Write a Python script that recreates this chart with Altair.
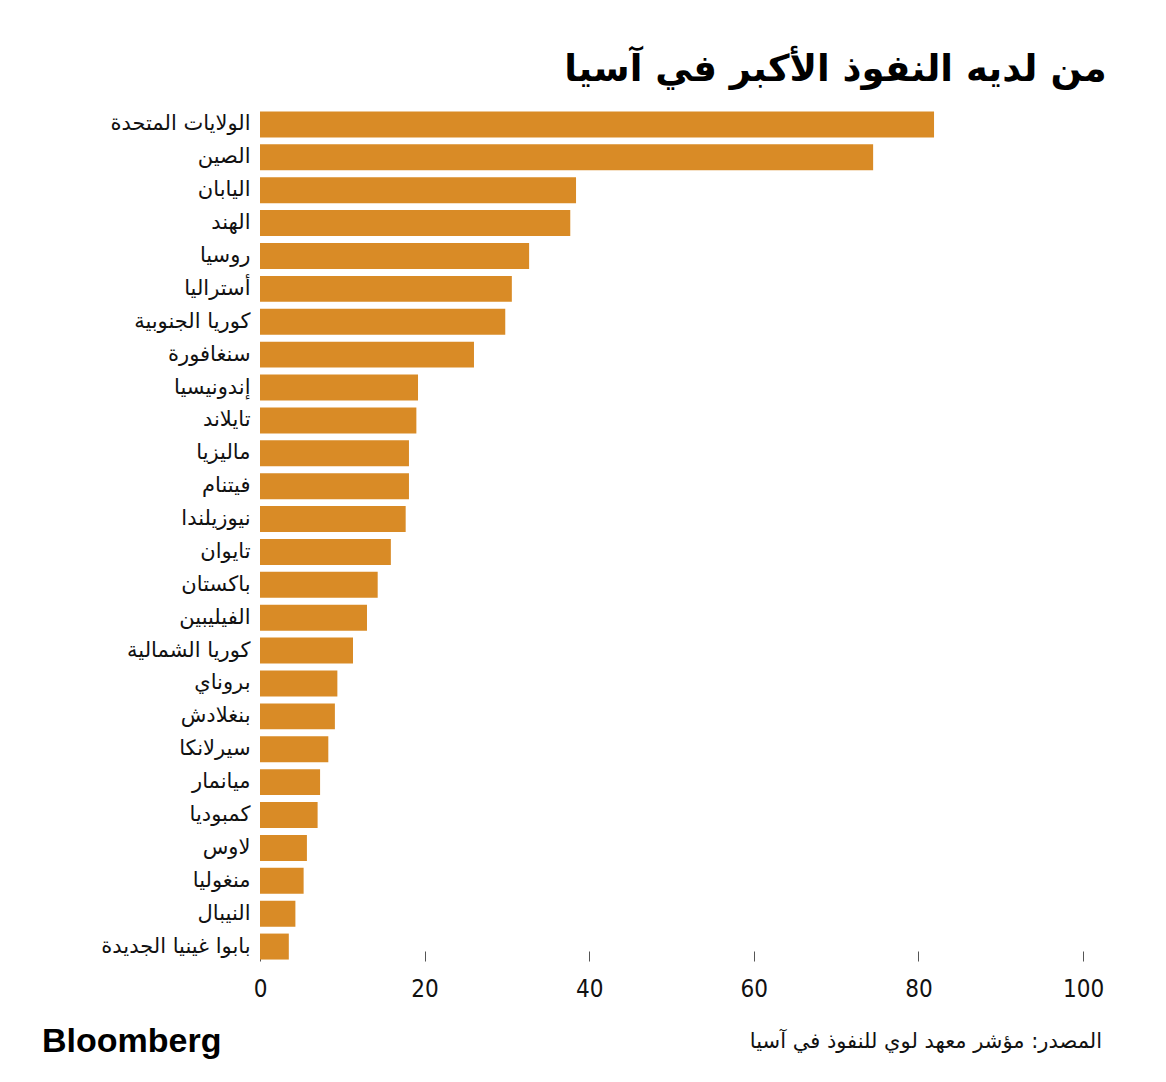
import altair as alt
import pandas as pd

countries = [
    "الولايات المتحدة", "الصين", "اليابان", "الهند", "روسيا", "أستراليا",
    "كوريا الجنوبية", "سنغافورة", "إندونيسيا", "تايلاند", "ماليزيا", "فيتنام",
    "نيوزيلندا", "تايوان", "باكستان", "الفيليبين", "كوريا الشمالية", "بروناي",
    "بنغلادش", "سيرلانكا", "ميانمار", "كمبوديا", "لاوس", "منغوليا", "النيبال",
    "بابوا غينيا الجديدة",
]
scores = [
    81.9, 74.5, 38.4, 37.7, 32.7, 30.6,
    29.8, 26.0, 19.2, 19.0, 18.1, 18.1,
    17.7, 15.9, 14.3, 13.0, 11.3, 9.4,
    9.1, 8.3, 7.3, 7.0, 5.7, 5.3, 4.3,
    3.5,
]
x_ticks = [0, 20, 40, 60, 80, 100]

title_text = "من لديه النفوذ الأكبر في آسيا"
source_text = "المصدر: مؤشر معهد لوي للنفوذ في آسيا"
brand_text = "Bloomberg"

df = pd.DataFrame({"country": countries, "score": scores})

W, H = 823, 855

bars = alt.Chart(df).mark_bar(color="#D98B26").encode(
    x=alt.X("score:Q",
            scale=alt.Scale(domain=[0, 100], nice=False),
            axis=alt.Axis(values=x_ticks, title=None, domain=False, grid=False,
                          tickSize=10, tickColor="#555555", tickWidth=1,
                          offset=-12, labelPadding=16, labelFontSize=24,
                          labelFlush=False,
                          labelFont="DejaVu Sans Condensed, Liberation Sans Narrow, Liberation Sans",
                          labelColor="#111111")),
    y=alt.Y("country:N", sort=countries,
            scale=alt.Scale(paddingInner=0.21, paddingOuter=0.105),
            axis=alt.Axis(title=None, domain=False, ticks=False, labelPadding=10,
                          labelFontSize=21, labelFont="DejaVu Sans",
                          labelColor="#111111", labelLimit=400)),
)

brand = alt.Chart(pd.DataFrame({"t": [brand_text]})).mark_text(
    align="left", baseline="middle", fontSize=34, fontWeight="bold",
    font="Liberation Sans", color="#000000"
).encode(text="t:N", x=alt.value(-218), y=alt.value(934))

source = alt.Chart(pd.DataFrame({"t": [source_text]})).mark_text(
    align="right", baseline="middle", fontSize=21, font="DejaVu Sans",
    color="#111111"
).encode(text="t:N", x=alt.value(842), y=alt.value(934))

chart = alt.layer(bars, brand, source).properties(
    width=W, height=H,
    background="#ffffff",
    title=alt.TitleParams(title_text, anchor="end", fontSize=37, fontWeight="bold",
                          font="DejaVu Sans", color="#000000", dx=3, dy=40,
                          baseline="bottom", offset=22),
    autosize=alt.AutoSizeParams(type="none"),
    padding={"left": 260, "top": 108, "right": 83, "bottom": 119},
).configure_view(strokeWidth=0, stroke="transparent")

chart.save("out.html", embed_options={"renderer": "svg", "actions": False})
